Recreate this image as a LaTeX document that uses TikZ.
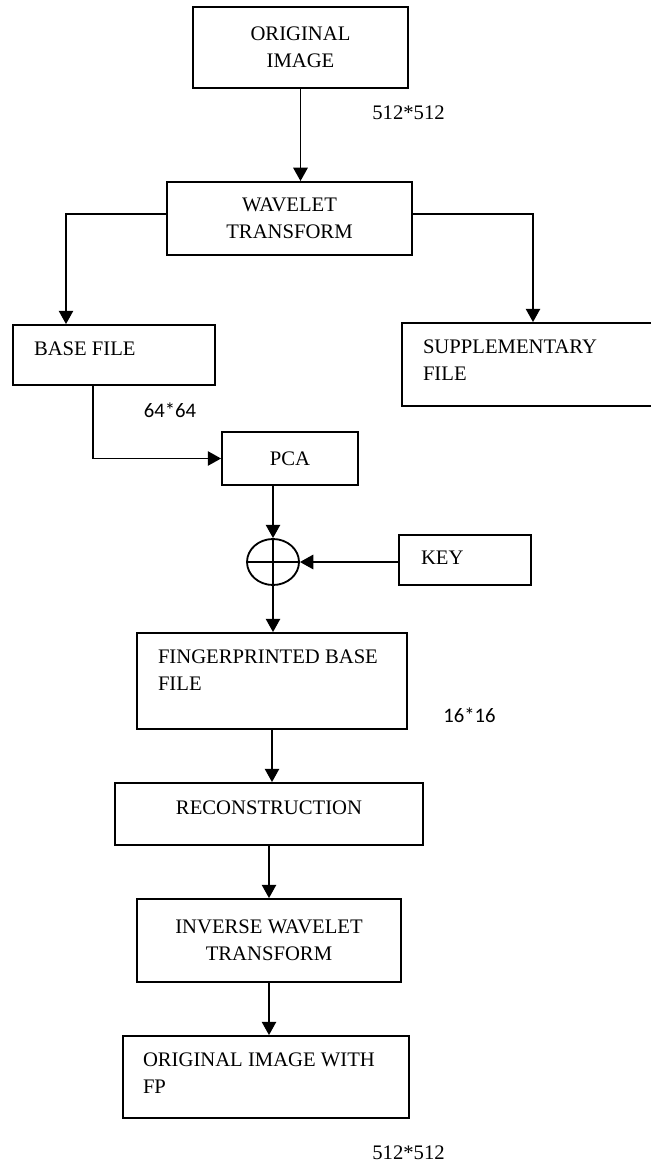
\documentclass[tikz,border=0pt]{standalone}
\usepackage{fontspec}
\setmainfont{Liberation Serif}
\newfontfamily\sizefont{Carlito}
\usetikzlibrary{positioning,arrows.meta,shapes.geometric}

\begin{document}
\begin{tikzpicture}[x=0.6pt,y=-0.6pt,line width=1.1pt,
  >={Triangle[length=8pt,width=8.6pt]},
  font=\fontsize{12.4}{16.2}\selectfont,
  box/.style 2 args={draw,align=center,inner sep=0pt,minimum width=#1*0.6pt,minimum height=#2*0.6pt},
  boxtext/.style={anchor=north west,inner sep=0pt,align=left},
  dims/.style={inner sep=0pt},
  dimcal/.style={inner sep=0pt,font=\sizefont\fontsize{12.4}{15}\selectfont}]
  \clip (0,0) rectangle (651,1162);
  % boxes
  \node[box={215}{81}] (orig) at (300.5,47.5) {ORIGINAL\\IMAGE};
  \node[box={245}{73}] (wave) at (289.5,218.5) {WAVELET\\TRANSFORM};
  \node[box={202}{60}] (base) at (114,355) {};
  \node[boxtext] (basetext) at ([shift={(21,17)}]base.north west) {BASE FILE};
  \node[box={258}{83}] (supp) at (531,364.5) {};
  \node[boxtext] (supptext) at ([shift={(21,17)}]supp.north west) {SUPPLEMENTARY\\FILE};
  \node[box={136}{53}] (pca) at (290,458.5) {PCA};
  \node[draw,ellipse,inner sep=0pt,minimum width=31.2pt,minimum height=27.6pt] (xor) at (273,562) {};
  \draw (xor.north) -- (xor.south) (xor.west) -- (xor.east);
  \node[box={132}{50}] (key) at (465,560) {};
  \node[boxtext] (keytext) at ([shift={(22,16)}]key.north west) {KEY};
  \node[box={270}{96}] (fp) at (272,681) {};
  \node[boxtext] (fptext) at ([shift={(21,17)}]fp.north west) {FINGERPRINTED BASE\\FILE};
  \node[box={308}{62},text depth=8pt] (recon) at (269,814) {RECONSTRUCTION};
  \node[box={264}{83}] (iwt) at (269,940.5) {INVERSE WAVELET\\TRANSFORM};
  \node[box={286}{82}] (out) at (266,1077) {};
  \node[boxtext] (outtext) at ([shift={(20,17)}]out.north west) {ORIGINAL IMAGE WITH\\FP};
  % sizes
  \node[dims] (dimorig) at (408.5,113) {512*512};
  \node[dimcal] (dimbase) at (170,410) {64*64};
  \node[dimcal] (dimfp) at (469.5,715) {16*16};
  \node[dims] (dimout) at (408.5,1153) {512*512};
  % arrows
  \draw[->] (orig.south) -- (orig.south |- wave.north);
  \draw[->] (wave.west |- 0,214) -| (base.north -| 66,0);
  \draw[->] (wave.east |- 0,214) -| (supp.north -| 533,0);
  \draw[->] (base.south -| 93,0) |- (pca.west);
  \draw[->] (pca.south -| xor.north) -- (xor.north);
  \draw[->] (key.west |- xor.east) -- (xor.east);
  \draw[->] (xor.south) -- (xor.south |- fp.north);
  \draw[->] (fp.south) -- (fp.south |- recon.north);
  \draw[->] (recon.south) -- (recon.south |- iwt.north);
  \draw[->] (iwt.south) -- (iwt.south |- out.north);
\end{tikzpicture}
\end{document}
